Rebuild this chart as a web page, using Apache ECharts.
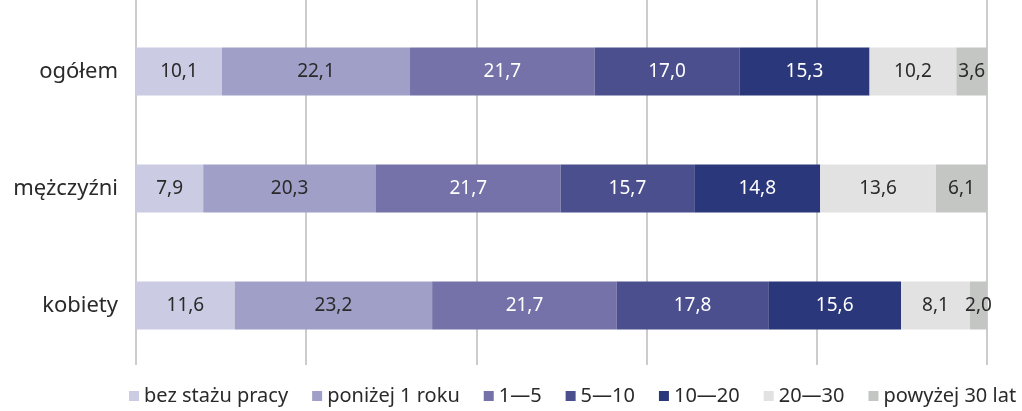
<!DOCTYPE html>
<html>
<head>
<meta charset="utf-8">
<script src="https://cdn.jsdelivr.net/npm/echarts@6/dist/echarts.min.js"></script>
<style>
  html, body { margin: 0; padding: 0; background: #fff; }
  #chart { width: 1022px; height: 411px; }
</style>
</head>
<body>
<div id="chart"></div>
<script>
// kategorie (od góry)
var categories = ['ogółem', 'mężczyźni', 'kobiety'];
var seriesNames = ['bez stażu pracy', 'poniżej 1 roku', '1—5', '5—10', '10—20', '20—30', 'powyżej 30 lat'];
// wartości w %, kolejno dla ogółem / mężczyźni / kobiety
var bezStazu = [10.1, 7.9, 11.6];
var ponizej1 = [22.1, 20.3, 23.2];
var lat1_5 = [21.7, 21.7, 21.7];
var lat5_10 = [17.0, 15.7, 17.8];
var lat10_20 = [15.3, 14.8, 15.6];
var lat20_30 = [10.2, 13.6, 8.1];
var powyzej30 = [3.6, 6.1, 2.0];
var xTicks = [0, 20, 40, 60, 80, 100];

var values = [bezStazu, ponizej1, lat1_5, lat5_10, lat10_20, lat20_30, powyzej30];
var colors = ['#cbcbe3', '#a09fc8', '#7472a8', '#4b4f8e', '#2b377b', '#e2e2e2', '#c4c6c3'];
var labelColors = ['#2a2a2a', '#2a2a2a', '#ffffff', '#ffffff', '#ffffff', '#2a2a2a', '#2a2a2a'];

var chart = echarts.init(document.getElementById('chart'));
var font = '"Noto Sans", "Open Sans", sans-serif';

var series = values.map(function (arr, i) {
    return {
        name: seriesNames[i],
        type: 'bar',
        stack: 'all',
        xAxisIndex: 0,
        yAxisIndex: 0,
        barWidth: 48,
        data: arr,
        itemStyle: { color: colors[i] },
        label: {
            show: true,
            color: labelColors[i],
            fontFamily: font,
            fontSize: 19,
            formatter: function (p) { return p.value.toFixed(1).replace('.', ','); }
        }
    };
});

var option = {
    animation: false,
    textStyle: { fontFamily: font },
    grid: [
        { left: 136, right: 35, top: 13, bottom: 47 },
        // siatka tylko dla linii pionowych (od góry rysunku)
        { left: 136, right: 35, top: 0, bottom: 46 }
    ],
    xAxis: [
        {
            gridIndex: 0, type: 'value', min: 0, max: 100, interval: 20,
            axisLabel: { show: false }, axisLine: { show: false }, axisTick: { show: false },
            splitLine: { show: false }
        },
        {
            gridIndex: 1, type: 'value', min: xTicks[0], max: xTicks[xTicks.length - 1], interval: 20,
            axisLabel: { show: false }, axisLine: { show: false }, axisTick: { show: false },
            splitLine: { show: true, lineStyle: { color: '#cccccc', width: 2 } }
        }
    ],
    yAxis: [
        {
            gridIndex: 0, type: 'category', data: categories, inverse: true,
            axisLine: { show: false }, axisTick: { show: false },
            axisLabel: { color: '#2a2a2a', fontSize: 22, margin: 18, fontFamily: font }
        },
        {
            gridIndex: 1, type: 'category', data: categories, show: false
        }
    ],
    legend: {
        top: 381,
        left: 124,
        itemWidth: 10,
        itemHeight: 10,
        itemGap: 24,
        icon: 'rect',
        textStyle: { color: '#2a2a2a', fontSize: 20, fontFamily: font },
        data: seriesNames
    },
    series: series
};

chart.setOption(option);
</script>
</body>
</html>
